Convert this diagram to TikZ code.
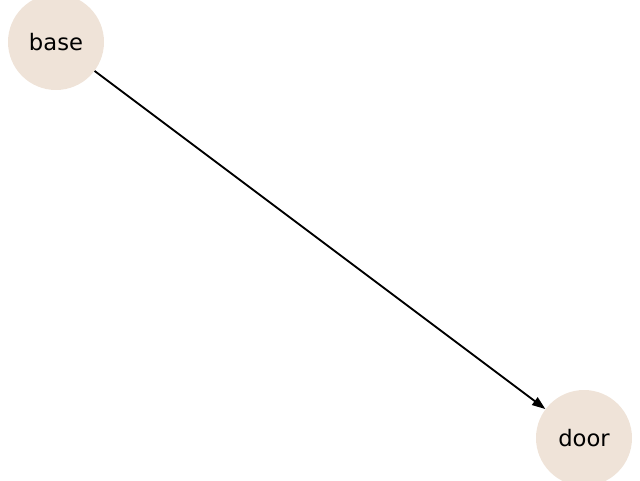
\documentclass[tikz,border=0pt]{standalone}
\usepackage{fontspec}
\setmainfont{DejaVu Sans}
\usetikzlibrary{arrows.meta}
\definecolor{nodefill}{RGB}{239,227,216}
\begin{document}
\begin{tikzpicture}[x=0.75pt,y=-0.75pt,
  vtx/.style={circle,fill=nodefill,minimum size=72pt,inner sep=0pt,font=\fontsize{17}{20}\selectfont},
  edge/.style={line width=1.4pt,-{Triangle[length=10pt,width=7pt]}}]
\useasboundingbox (0,0) rectangle (640,480);
\node[vtx] (base) at (56,42) {base};
\node[vtx] (door) at (584,438) {door};
\draw[edge] (base) -- (door);
\end{tikzpicture}
\end{document}
